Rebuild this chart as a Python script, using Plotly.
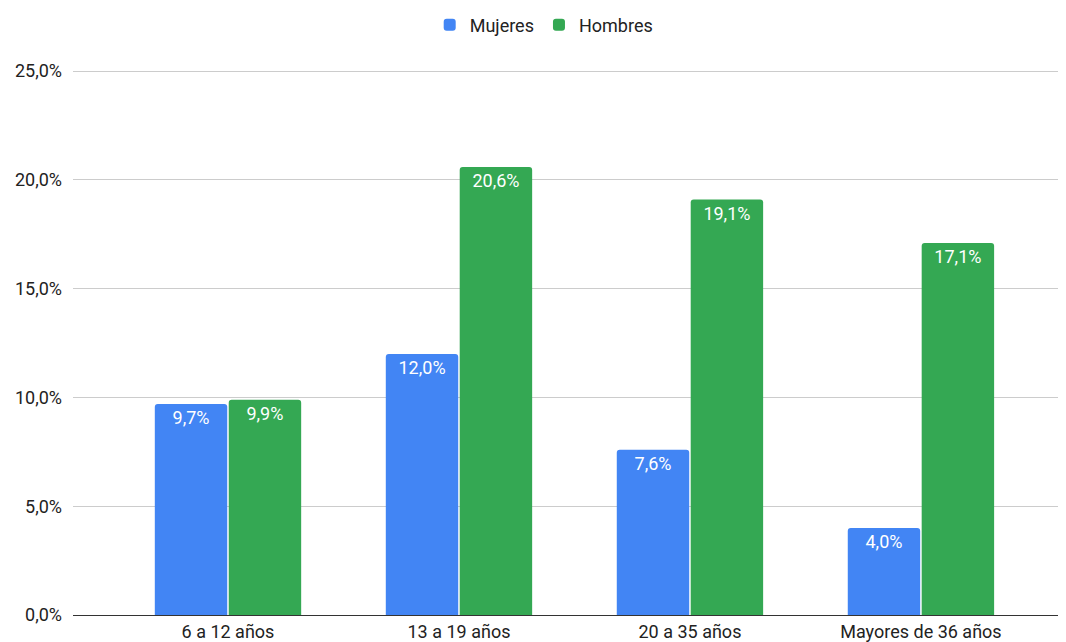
import plotly.graph_objects as go

categories = ["6 a 12 años", "13 a 19 años", "20 a 35 años", "Mayores de 36 años"]
mujeres = [9.7, 12.0, 7.6, 4.0]
hombres = [9.9, 20.6, 19.1, 17.1]
y_ticks = [0, 5, 10, 15, 20, 25]
y_tick_labels = ["0,0%", "5,0%", "10,0%", "15,0%", "20,0%", "25,0%"]

def fmt(v):
    return f"{v:.1f}".replace(".", ",") + "%"

fig = go.Figure()
fig.add_trace(go.Bar(
    name="Mujeres", x=categories, y=mujeres,
    marker=dict(color="#4285F4", line=dict(width=0)),
    text=[fmt(v) for v in mujeres], textposition="inside",
    insidetextanchor="end", textangle=0,
    textfont=dict(color="white", size=18, family="Roboto"),
))
fig.add_trace(go.Bar(
    name="Hombres", x=categories, y=hombres,
    marker=dict(color="#34A853", line=dict(width=0)),
    text=[fmt(v) for v in hombres], textposition="inside",
    insidetextanchor="end", textangle=0,
    textfont=dict(color="white", size=18, family="Roboto"),
))

fig.update_layout(
    width=1066, height=642,
    margin=dict(l=65, r=8, t=61, b=35),
    paper_bgcolor="white", plot_bgcolor="white",
    font=dict(family="Roboto", size=18, color="#222222"),
    barmode="group", bargap=0.36, bargroupgap=0.02,
    barcornerradius=3,
    showlegend=True,
    legend=dict(orientation="h", xref="container", yref="container",
                x=0.503, y=0.9735, xanchor="center", yanchor="middle",
                font=dict(size=18, color="#222222"), itemwidth=30),
    xaxis=dict(range=[-0.671, 3.628], showgrid=False, showline=True,
               linecolor="#333333", linewidth=1, ticks="",
               tickfont=dict(size=18, color="#222222")),
    yaxis=dict(range=[0, 25.1], tickvals=y_ticks, ticktext=y_tick_labels,
               showgrid=True, gridcolor="#cccccc", gridwidth=1,
               zeroline=False, showline=False, ticks="",
               ticklabelstandoff=10,
               tickfont=dict(size=18, color="#222222")),
)

fig.write_html("out.html")
